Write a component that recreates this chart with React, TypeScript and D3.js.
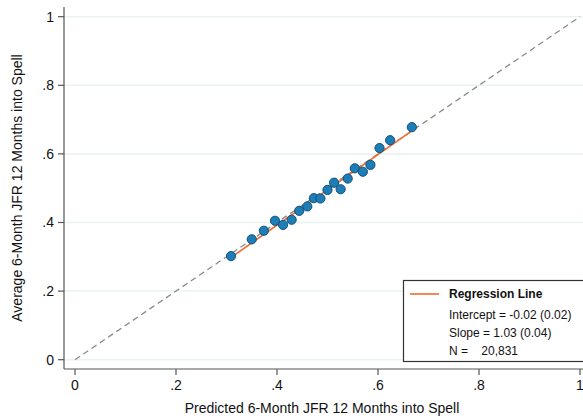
import React from "react";
import * as d3 from "d3";

// Binned averages: predicted vs. realised 6-month job-finding rate
const predicted = [0.309, 0.35, 0.374, 0.396, 0.412, 0.429, 0.444, 0.46, 0.473, 0.486, 0.5, 0.513, 0.526, 0.54, 0.554, 0.57, 0.585, 0.603, 0.624, 0.667];
const observed = [0.302, 0.351, 0.376, 0.405, 0.393, 0.408, 0.434, 0.447, 0.471, 0.47, 0.495, 0.516, 0.497, 0.528, 0.558, 0.548, 0.568, 0.617, 0.64, 0.678];

const intercept = -0.02;
const slope = 1.03;
const interceptSE = 0.02;
const slopeSE = 0.04;
const nObs = "20,831";

const tickValues = [0, 0.2, 0.4, 0.6, 0.8, 1];
const tickLabel = (v: number) => (v === 0 ? "0" : v === 1 ? "1" : d3.format(".1f")(v).replace(/^0/, ""));

const W = 583;
const H = 419;
const FONT = "'Liberation Sans', Arial, sans-serif";

export default function App() {
  const x = d3.scaleLinear().domain([0, 1]).range([75, 580]);
  const y = d3.scaleLinear().domain([0, 1]).range([359.7, 16.7]);
  const axisLeft = 64;
  const axisBottom = 369;

  const xMin = d3.min(predicted) as number;
  const xMax = d3.max(predicted) as number;
  const regLine = d3.line<number>().x((v) => x(v)).y((v) => y(intercept + slope * v));
  const diag = d3.line<number>().x((v) => x(v)).y((v) => y(v));

  return (
    <svg width={W} height={H} style={{ position: "absolute", left: 0, top: 0, background: "#fff" }} fontFamily={FONT}>
      {/* horizontal grid */}
      {tickValues.map((t) => (
        <line key={"g" + t} x1={axisLeft} x2={W} y1={y(t)} y2={y(t)} stroke="#eaf2f3" strokeWidth={1.5} />
      ))}

      {/* 45-degree reference line */}
      <path d={diag([0, 1]) as string} stroke="#8a8a8a" strokeWidth={1.3} strokeDasharray="6 4" fill="none" />

      {/* fitted regression line */}
      <path d={regLine([xMin, xMax]) as string} stroke="#f26a2d" strokeWidth={1.6} fill="none" />

      {/* binned points */}
      {predicted.map((p, i) => (
        <circle key={i} cx={x(p)} cy={y(observed[i])} r={4.6} fill="#1d7db6" stroke="#14507a" strokeWidth={1} />
      ))}

      {/* axes */}
      <line x1={axisLeft} x2={axisLeft} y1={7} y2={axisBottom} stroke="#555" strokeWidth={1.2} />
      <line x1={axisLeft} x2={W} y1={axisBottom} y2={axisBottom} stroke="#555" strokeWidth={1.2} />
      {tickValues.map((t) => (
        <g key={"y" + t}>
          <line x1={axisLeft - 6} x2={axisLeft} y1={y(t)} y2={y(t)} stroke="#555" strokeWidth={1.2} />
          <text x={axisLeft - 10} y={y(t)} dy="0.35em" textAnchor="end" fontSize={14} fill="#111">
            {tickLabel(t)}
          </text>
        </g>
      ))}
      {tickValues.map((t) => (
        <g key={"x" + t}>
          <line x1={x(t)} x2={x(t)} y1={axisBottom} y2={axisBottom + 6} stroke="#555" strokeWidth={1.2} />
          <text x={x(t)} y={axisBottom + 21} textAnchor="middle" fontSize={14} fill="#111">
            {tickLabel(t)}
          </text>
        </g>
      ))}

      <text x={(axisLeft + 580) / 2} y={413} textAnchor="middle" fontSize={14} fill="#111">
        Predicted 6-Month JFR 12 Months into Spell
      </text>
      <text transform={`translate(22,${(7 + axisBottom) / 2}) rotate(-90)`} textAnchor="middle" fontSize={14} fill="#111">
        Average 6-Month JFR 12 Months into Spell
      </text>

      {/* legend */}
      <g>
        <rect x={403.5} y={280.5} width={200} height={81} fill="#fff" stroke="#333" strokeWidth={1.2} />
        <line x1={410} x2={439} y1={294} y2={294} stroke="#f26a2d" strokeWidth={1.6} />
        <text x={449} y={298} fontSize={12} fontWeight="bold" fill="#111">Regression Line</text>
        <text x={449} y={319} fontSize={12} fill="#111">{`Intercept = ${intercept.toFixed(2)} (${interceptSE.toFixed(2)})`}</text>
        <text x={449} y={337} fontSize={12} fill="#111">{`Slope = ${slope.toFixed(2)} (${slopeSE.toFixed(2)})`}</text>
        <text x={449} y={355} fontSize={12} fill="#111" style={{ whiteSpace: "pre" }}>{`N =    ${nObs}`}</text>
      </g>
    </svg>
  );
}
